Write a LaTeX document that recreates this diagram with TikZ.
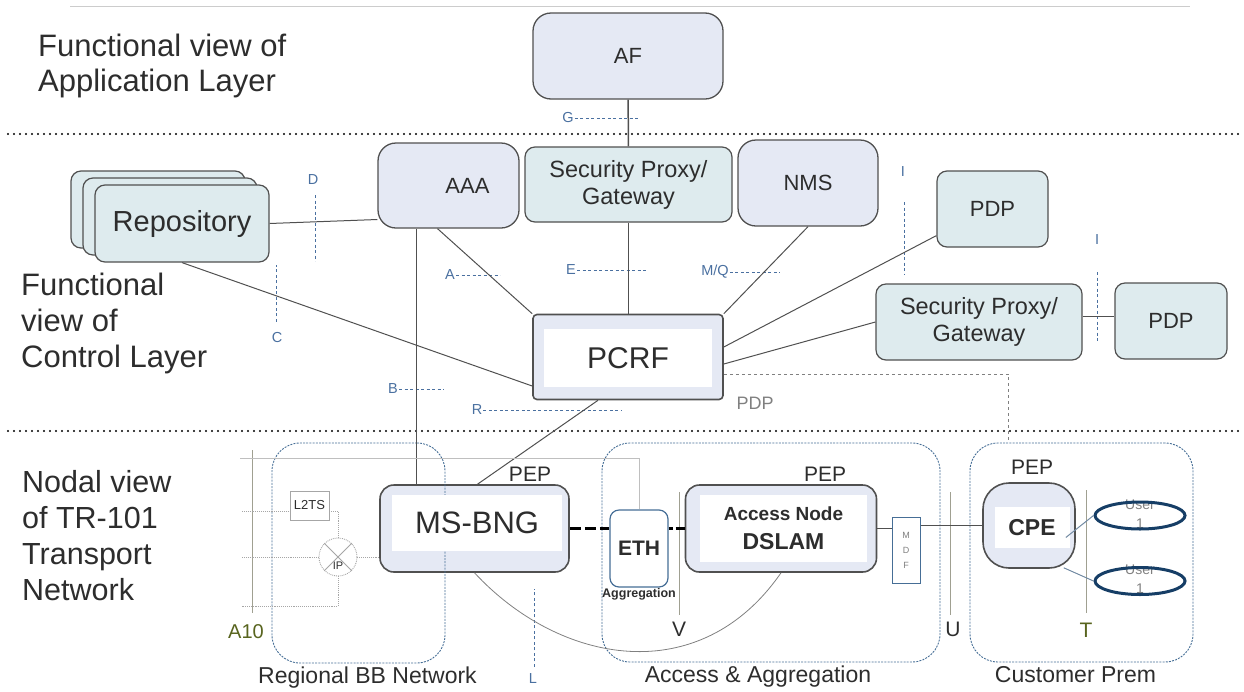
\documentclass[tikz,border=0pt]{standalone}
\usepackage{fontspec}
\setmainfont{Liberation Sans}
\usepackage{tikz}
\usetikzlibrary{calc,positioning,shapes.geometric}

\definecolor{boxblue}{RGB}{229,233,244}
\definecolor{boxteal}{RGB}{222,235,238}
\definecolor{edgegray}{RGB}{80,80,80}
\definecolor{txtgray}{RGB}{45,45,45}
\definecolor{ifblue}{RGB}{74,112,160}
\definecolor{zoneblue}{RGB}{70,110,150}
\definecolor{userblue}{RGB}{22,62,102}
\definecolor{refolive}{RGB}{88,100,30}
\definecolor{markgray}{RGB}{160,160,145}

\tikzstyle{fnbox} = [rectangle, rounded corners=18pt, draw=edgegray, line width=1.3pt, fill=boxblue, inner sep=0pt, text=txtgray, font=\fontsize{22}{26}\selectfont]
\tikzstyle{gwbox} = [rectangle, rounded corners=10pt, draw=edgegray, line width=1.2pt, fill=boxteal, inner sep=0pt, align=center, text=txtgray, font=\fontsize{22}{27}\selectfont]
\tikzstyle{nodebox} = [rectangle, rounded corners=14pt, draw=edgegray, line width=1.6pt, fill=boxblue, inner sep=0pt]
\tikzstyle{inbox} = [rectangle, fill=white, inner sep=0pt, text=txtgray]
\tikzstyle{layer} = [anchor=north west, inner sep=0pt, align=left, text=txtgray]
\tikzstyle{iflabel} = [text=ifblue, inner sep=1pt, font=\fontsize{14.5}{16}\selectfont]
\tikzstyle{ifline} = [ifblue, line width=0.9pt, dash pattern=on 3pt off 2.5pt]
\tikzstyle{zone} = [rectangle, draw=zoneblue, line width=0.9pt, dash pattern=on 2pt off 1.2pt, rounded corners=28pt, inner sep=0pt]
\tikzstyle{zonetxt} = [text=txtgray, font=\fontsize{23}{27}\selectfont]
\tikzstyle{link} = [edgegray, line width=1pt]
\tikzstyle{feed} = [gray!70, densely dotted, line width=0.9pt]
\tikzstyle{divider} = [line width=2.4pt, dash pattern=on 0pt off 6pt, line cap=round]
\tikzstyle{pep} = [text=txtgray, font=\fontsize{21}{25}\selectfont]
\tikzstyle{refmark} = [markgray, line width=1pt]
\tikzstyle{user} = [ellipse, draw=userblue, line width=3pt, minimum width=90pt, minimum height=27pt, inner sep=0pt]
\tikzstyle{usertxt} = [align=center, text=gray, font=\fontsize{14}{19}\selectfont]

\begin{document}
\begin{tikzpicture}[x=1pt, y=-1pt]

\useasboundingbox (0,0) rectangle (1244,691);

% Layers
\draw [gray!40, line width=1pt] (70,6) -- (1190,6);
\draw [divider] (8,134) -- (1240,134);
\draw [divider] (8,431) -- (1240,431);
\node (applayer) [layer, font=\fontsize{31}{35}\selectfont] at (38,34) {Functional view of\\Application Layer};
\node (ctrllayer) [layer, font=\fontsize{31}{36}\selectfont] at (21,273) {Functional\\view of\\Control Layer};
\node (nodallayer) [layer, font=\fontsize{30.5}{36}\selectfont] at (22,470) {Nodal view\\of TR-101\\Transport\\Network};

% Nodes
\node (af) [fnbox, minimum width=190pt, minimum height=86pt] at (628,56) {AF};
\node (sp1) [gwbox, minimum width=207pt, minimum height=75pt, font=\fontsize{23.5}{27}\selectfont] at (628.5,184.5) {Security Proxy/\\Gateway};
\node (aaa) [fnbox, minimum width=141pt, minimum height=85pt, label={[xshift=19pt, text=txtgray, font=\fontsize{22}{26}\selectfont]center:AAA}] at (448.5,185.5) {};
\node (nms) [fnbox, minimum width=140pt, minimum height=86pt] at (808,183) {NMS};
\node (repo3) [gwbox, minimum width=174pt, minimum height=77pt] at (158,209.5) {};
\node (repo2) [gwbox, minimum width=174pt, minimum height=77pt] at (170,216.5) {};
\node (repo) [gwbox, minimum width=174pt, minimum height=77pt, font=\fontsize{29}{33}\selectfont] at (182,223.5) {Repository};
\node (pcrf) [nodebox, rounded corners=4pt, minimum width=190pt, minimum height=85pt] at (628,357) {};
\node (pcrfin) [inbox, minimum width=168pt, minimum height=58pt, font=\fontsize{30}{36}\selectfont] at (628,358) {PCRF};
\node (pdp1) [gwbox, minimum width=111pt, minimum height=76pt] at (992.5,209) {PDP};
\node (sp2) [gwbox, minimum width=206pt, minimum height=76pt, font=\fontsize{23.5}{27}\selectfont] at (979,322) {Security Proxy/\\Gateway};
\node (pdp2) [gwbox, minimum width=112pt, minimum height=76pt] at (1171,321) {PDP};
\node (pdptxt) [text=gray, font=\fontsize{18}{22}\selectfont] at (755,403) {PDP};

\node (bng) [nodebox, minimum width=189pt, minimum height=87pt] at (474.5,528.5) {};
\node (regional) [zone, minimum width=173pt, minimum height=220pt] at (358.5,553) {};
\node (bngin) [inbox, minimum width=170pt, minimum height=56pt, font=\fontsize{31}{36}\selectfont] at (477,523) {MS-BNG};
\node (access) [zone, minimum width=338pt, minimum height=219pt] at (771,552.5) {};
\node (custzone) [zone, minimum width=223pt, minimum height=219pt] at (1081.5,552.5) {};
\node (regionaltxt) [zonetxt, below=0pt of regional, xshift=9pt] {Regional BB Network};
\node (accesstxt) [zonetxt, below=0pt of access, xshift=-13pt] {Access \& Aggregation};
\node (custtxt) [zonetxt, below=0pt of custzone, xshift=-6pt] {Customer Prem};

\node (l2ts) [rectangle, draw=gray!70, line width=0.8pt, minimum width=39pt, minimum height=29pt, inner sep=0pt, text=txtgray, font=\fontsize{13}{15}\selectfont] at (309.5,505.5) {L2TS};
\node (ip) [circle, draw=gray!70, densely dotted, line width=0.9pt, minimum size=38pt, inner sep=0pt, label={[yshift=-9pt, text=txtgray, font=\fontsize{11}{13}\selectfont]center:IP}] at (338,557) {};

\node (eth) [rectangle, rounded corners=9pt, draw=zoneblue, line width=1.2pt, fill=white, minimum width=58pt, minimum height=77pt, inner sep=0pt, text=txtgray, font=\bfseries\fontsize{21}{25}\selectfont] at (639,548.5) {ETH};
\node (ethtxt) [below=1pt of eth, inner sep=0pt, text=txtgray, font=\bfseries\fontsize{12.5}{15}\selectfont] {Aggregation};
\node (dslam) [nodebox, minimum width=191pt, minimum height=87pt] at (781,528.5) {};
\node (dslamin) [inbox, minimum width=167pt, minimum height=67pt, align=center, font=\bfseries\fontsize{19}{29}\selectfont] at (783.5,528.5) {Access Node\\{\fontsize{23}{29}\selectfont DSLAM}};
\node (mdf) [rectangle, draw=zoneblue, line width=1pt, fill=white, minimum width=28pt, minimum height=66pt, inner sep=0pt, align=center, text=gray, font=\fontsize{9}{15}\selectfont] at (906,550) {M\\D\\F};
\node (cpe) [nodebox, rounded corners=26pt, minimum width=92pt, minimum height=85pt] at (1029,525.5) {};
\node (cpein) [inbox, minimum width=75pt, minimum height=41pt, font=\bfseries\fontsize{23}{27}\selectfont] at (1032,527.5) {CPE};
\node (user1txt) [usertxt] at (1140,514) {User\\1};
\node (user1) [user] at (1140,515.5) {};
\node (user2txt) [usertxt] at (1140,579) {User\\1};
\node (user2) [user] at (1140,581) {};

\node (bngpep) [pep] at (530,474) {PEP};
\node (dslampep) [pep] at (825,474) {PEP};
\node (cpepep) [pep] at (1032,467) {PEP};

% Interfaces
\node (ifg) [iflabel] at (568,118) {G};
\draw [ifline] (ifg.east) -- ++(64,0);
\node (ifa) [iflabel] at (450,275) {A};
\draw [ifline] (ifa.east) -- ++(44,0);
\node (ife) [iflabel] at (571,270) {E};
\draw [ifline] (ife.east) -- ++(70,0);
\node (ifmq) [iflabel] at (715,272) {M/Q};
\draw [ifline] (ifmq.east) -- ++(50,0);
\node (ifb) [iflabel] at (393,389) {B};
\draw [ifline] (ifb.east) -- ++(45,0);
\node (ifr) [iflabel] at (477,410) {R};
\draw [ifline] (ifr.east) -- ++(138,0);
\node (ifd) [iflabel] at (313,180) {D};
\draw [ifline] ($(ifd.south)+(2,9)$) -- ++(0,66);
\node (ifc) [iflabel] at (277,338) {C};
\draw [ifline] ($(ifc.north)+(-1,-10)$) -- ++(0,-57);
\node (ifi) [iflabel] at (903,172) {I};
\draw [ifline] ($(ifi.south)+(1,24)$) -- ++(0,72);
\node (ifi2) [iflabel] at (1097,240) {I};
\draw [ifline] ($(ifi2.south)+(0,26)$) -- ++(0,69);
\node (ifl) [iflabel] at (533,678) {L};
\draw [ifline] ($(ifl.north)+(1,-5)$) -- ++(0,-78);

% Reference points
\node (a10) [text=refolive, font=\fontsize{20}{24}\selectfont] at (246,632) {A10};
\draw [refmark] (252,450) -- (252,613);
\node (refv) [text=txtgray, font=\fontsize{21}{25}\selectfont] at (679,629) {V};
\draw [refmark] (679,492) -- (679,615);
\node (refu) [text=txtgray, font=\fontsize{21}{25}\selectfont] at (953,629) {U};
\draw [refmark] (950,492) -- (950,615);
\node (reft) [text=refolive, font=\fontsize{21}{25}\selectfont] at (1086,630) {T};
\draw [refmark] (1086,490) -- (1086,613);

% Lines
\draw [link, line width=1.5pt] (af) -- (sp1);
\draw [link, line width=1.8pt] (sp1.south) -- (sp1.south |- pcrf.north);
\draw [link] (repo.east) -- ($(aaa.west)+(0,34)$);
\draw [link] ($(aaa.south)+(-11,0)$) -- (pcrf.north west);
\coordinate (aaadown) at ($(aaa.south)+(-32,0)$);
\draw [link] (aaadown) -- (aaadown |- bng.north);
\draw [link] (repo.south) -- ($(pcrf.west)+(0,29)$);
\draw [link] (nms.south) -- (pcrf.north east);
\draw [link] ($(pdp1.south west)+(0,-12)$) -- ($(pcrf.east)+(0,-10)$);
\draw [link] (sp2.west) -- ($(pcrf.east)+(0,7)$);
\draw [link] ($(sp2.east)+(0,-6)$) -- ($(pdp2.west)+(0,-5)$);
\draw [gray, dashed, line width=0.8pt] ($(pcrf.east)+(0,17)$) -| ($(custzone.north)+(-73,0)$);
\draw [link] ($(pcrf.south)+(-30,0)$) -- ($(bng.north)+(3,0)$);

\coordinate (ethfeed) at (240,458);
\draw [gray!50, line width=0.8pt] (ethfeed) -| (eth.north);
\draw [black, line width=2.4pt, dash pattern=on 11pt off 4pt] (bng.east) -- (eth.west |- bng.east);
\draw [black, line width=2.4pt, dash pattern=on 4pt off 3pt on 11pt off 2pt] (eth.east |- dslam.west) -- (dslam.west);
\draw [link] (dslam.east) -- (mdf.west |- dslam.east);
\draw [link] (mdf.east |- cpe.west) -- (cpe.west);
\draw [gray, line width=0.8pt] (bng.south) .. controls (560,665) and (700,690) .. (dslam.south);
\draw [userblue!60, line width=1pt] ($(cpe.east)+(-10,12)$) -- (user1.west);
\draw [userblue!60, line width=1pt] ($(cpe.south east)+(-12,-1)$) -- (user2.west);

\coordinate (feedtop) at (242,511);
\coordinate (feedmid) at (242,557);
\coordinate (feedbot) at (242,606);
\draw [feed] (feedtop) -- (l2ts.west |- feedtop);
\draw [feed] (l2ts.east |- feedtop) -| (ip.north);
\draw [feed] (feedmid) -- (ip.west);
\draw [feed] (ip.east) -- (bng.west |- ip.east);
\draw [feed] (ip.south) |- (feedbot);
\draw [gray!70, line width=0.8pt] (ip.45) -- (ip.225) (ip.135) -- (ip.-45);

\end{tikzpicture}
\end{document}
